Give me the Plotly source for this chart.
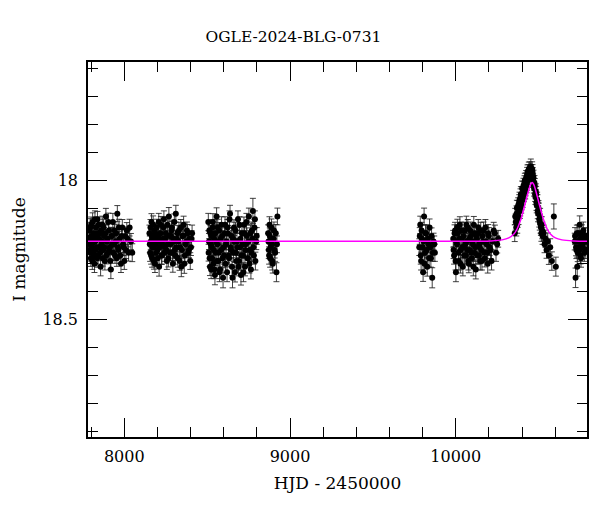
import plotly.graph_objects as go

# ---- data (HJD-2450000, I mag, error) ----
S1_t = [7787, 7791, 7794, 7798, 7801, 7805, 7809, 7812, 7816, 7820,
        7825, 7829, 7833, 7838, 7842, 7847, 7852, 7857, 7862, 7867,
        7872, 7878, 7883, 7889, 7895, 7901, 7907, 7913, 7919, 7925,
        7931, 7938, 7944, 7951, 7958, 7965, 7972, 7980, 7988, 7996,
        8005, 8015, 8026, 8040]
S1_m = [18.21, 18.25, 18.17, 18.28, 18.20, 18.23, 18.15, 18.26, 18.19, 18.30,
        18.22, 18.17, 18.24, 18.14, 18.27, 18.21, 18.19, 18.31, 18.23, 18.16,
        18.25, 18.20, 18.29, 18.13, 18.22, 18.26, 18.18, 18.24, 18.32, 18.20,
        18.15, 18.23, 18.27, 18.19, 18.12, 18.25, 18.21, 18.30, 18.17, 18.24,
        18.20, 18.18, 18.26, 18.22]
S1_e = [0.030, 0.028, 0.032, 0.029, 0.031, 0.027, 0.033, 0.030, 0.028, 0.031,
        0.029, 0.032, 0.030, 0.028, 0.031, 0.027, 0.030, 0.033, 0.029, 0.031,
        0.028, 0.030, 0.032, 0.029, 0.027, 0.031, 0.030, 0.028, 0.033, 0.029,
        0.031, 0.030, 0.028, 0.032, 0.029, 0.030, 0.027, 0.031, 0.029, 0.030,
        0.032, 0.028, 0.030, 0.029]
S1b_t = [7789, 7793, 7796, 7800, 7803, 7807, 7810, 7814, 7818, 7823,
         7827, 7831, 7836, 7840, 7845, 7849, 7854, 7860, 7865, 7870,
         7875, 7880, 7886, 7892, 7898, 7904, 7910, 7916, 7922, 7928,
         7934, 7941, 7948, 7955, 7962, 7968, 7976, 7984, 7992, 8000,
         8010, 8020, 8032, 8048]
S1b_m = [18.18, 18.23, 18.26, 18.16, 18.24, 18.29, 18.20, 18.22, 18.27, 18.14,
         18.25, 18.21, 18.28, 18.19, 18.16, 18.24, 18.26, 18.18, 18.22, 18.28,
         18.17, 18.24, 18.19, 18.27, 18.21, 18.15, 18.25, 18.29, 18.20, 18.23,
         18.26, 18.18, 18.22, 18.28, 18.24, 18.17, 18.27, 18.20, 18.23, 18.29,
         18.25, 18.21, 18.17, 18.26]
S1b_e = [0.029, 0.031, 0.030, 0.028, 0.032, 0.030, 0.029, 0.031, 0.028, 0.030,
         0.031, 0.029, 0.032, 0.030, 0.028, 0.031, 0.029, 0.030, 0.032, 0.028,
         0.030, 0.031, 0.029, 0.030, 0.028, 0.032, 0.030, 0.029, 0.031, 0.030,
         0.028, 0.031, 0.030, 0.029, 0.032, 0.030, 0.028, 0.031, 0.029, 0.030,
         0.031, 0.029, 0.030, 0.032]

S2_t = [8152, 8156, 8160, 8164, 8168, 8172, 8176, 8181, 8185, 8190,
        8195, 8200, 8205, 8210, 8215, 8221, 8227, 8233, 8239, 8245,
        8251, 8257, 8263, 8269, 8275, 8281, 8287, 8293, 8299, 8305,
        8311, 8317, 8323, 8330, 8337, 8344, 8351, 8358, 8366, 8374,
        8382, 8390, 8398, 8406]
S2_m = [18.19, 18.26, 18.22, 18.15, 18.28, 18.21, 18.24, 18.18, 18.30, 18.23,
        18.17, 18.25, 18.20, 18.31, 18.22, 18.16, 18.27, 18.21, 18.14, 18.24,
        18.19, 18.29, 18.23, 18.13, 18.26, 18.20, 18.17, 18.30, 18.22, 18.25,
        18.12, 18.21, 18.28, 18.18, 18.24, 18.31, 18.20, 18.16, 18.27, 18.22,
        18.19, 18.25, 18.29, 18.21]
S2_e = [0.029, 0.031, 0.028, 0.030, 0.032, 0.029, 0.030, 0.027, 0.031, 0.029,
        0.030, 0.028, 0.032, 0.034, 0.029, 0.030, 0.031, 0.028, 0.030, 0.029,
        0.031, 0.030, 0.028, 0.032, 0.029, 0.031, 0.027, 0.030, 0.029, 0.031,
        0.030, 0.028, 0.032, 0.029, 0.030, 0.036, 0.028, 0.031, 0.030, 0.029,
        0.031, 0.028, 0.030, 0.029]
S2b_t = [8154, 8158, 8162, 8166, 8170, 8174, 8179, 8183, 8188, 8192,
         8197, 8202, 8208, 8213, 8218, 8224, 8230, 8236, 8242, 8248,
         8254, 8260, 8266, 8272, 8278, 8284, 8290, 8296, 8302, 8308,
         8314, 8320, 8327, 8334, 8341, 8348, 8355, 8362, 8370, 8378,
         8386, 8394, 8402, 8409]
S2b_m = [18.23, 18.17, 18.27, 18.20, 18.24, 18.16, 18.29, 18.22, 18.19, 18.26,
         18.21, 18.28, 18.15, 18.24, 18.19, 18.27, 18.23, 18.17, 18.26, 18.21,
         18.25, 18.16, 18.28, 18.20, 18.23, 18.18, 18.26, 18.21, 18.15, 18.27,
         18.24, 18.19, 18.22, 18.29, 18.17, 18.25, 18.20, 18.30, 18.23, 18.18,
         18.26, 18.21, 18.24, 18.19]
S2b_e = [0.030, 0.029, 0.031, 0.028, 0.030, 0.032, 0.029, 0.030, 0.031, 0.028,
         0.030, 0.029, 0.031, 0.030, 0.028, 0.032, 0.030, 0.029, 0.031, 0.030,
         0.028, 0.030, 0.031, 0.029, 0.030, 0.032, 0.028, 0.030, 0.029, 0.031,
         0.030, 0.028, 0.030, 0.033, 0.029, 0.030, 0.031, 0.034, 0.029, 0.030,
         0.031, 0.028, 0.030, 0.029]

S3_t = [8507, 8511, 8515, 8520, 8524, 8528, 8533, 8537, 8542, 8547,
        8552, 8557, 8562, 8567, 8572, 8578, 8584, 8590, 8596, 8602,
        8608, 8614, 8620, 8626, 8632, 8638, 8644, 8650, 8656, 8662,
        8668, 8674, 8680, 8686, 8692, 8698, 8704, 8710, 8716, 8722,
        8728, 8734, 8740, 8746, 8752, 8758, 8764, 8770, 8776, 8782,
        8788, 8796]
S3_m = [18.15, 18.22, 18.28, 18.19, 18.32, 18.24, 18.17, 18.30, 18.21, 18.34,
        18.26, 18.13, 18.23, 18.29, 18.18, 18.32, 18.25, 18.20, 18.35, 18.27,
        18.16, 18.23, 18.33, 18.19, 18.28, 18.12, 18.25, 18.31, 18.21, 18.17,
        18.33, 18.26, 18.22, 18.14, 18.29, 18.24, 18.34, 18.19, 18.27, 18.16,
        18.31, 18.23, 18.20, 18.28, 18.13, 18.25, 18.32, 18.18, 18.11, 18.27,
        18.14, 18.22]
S3_e = [0.031, 0.029, 0.030, 0.028, 0.033, 0.030, 0.029, 0.032, 0.028, 0.035,
        0.030, 0.031, 0.029, 0.030, 0.028, 0.033, 0.030, 0.029, 0.036, 0.031,
        0.029, 0.030, 0.034, 0.028, 0.031, 0.030, 0.029, 0.032, 0.030, 0.028,
        0.035, 0.031, 0.029, 0.030, 0.032, 0.029, 0.036, 0.030, 0.031, 0.028,
        0.033, 0.030, 0.029, 0.031, 0.030, 0.029, 0.034, 0.030, 0.045, 0.031,
        0.030, 0.029]
S3b_t = [8509, 8513, 8517, 8522, 8526, 8530, 8535, 8540, 8544, 8549,
         8554, 8559, 8564, 8570, 8575, 8581, 8587, 8593, 8599, 8605,
         8611, 8617, 8623, 8629, 8635, 8641, 8647, 8653, 8659, 8665,
         8671, 8677, 8683, 8689, 8695, 8701, 8707, 8713, 8719, 8725,
         8731, 8737, 8743, 8749, 8755, 8761, 8767, 8773, 8779, 8785,
         8791, 8799]
S3b_m = [18.26, 18.18, 18.31, 18.23, 18.20, 18.28, 18.15, 18.25, 18.32, 18.19,
         18.22, 18.29, 18.17, 18.26, 18.33, 18.21, 18.16, 18.28, 18.24, 18.19,
         18.30, 18.22, 18.17, 18.27, 18.14, 18.24, 18.20, 18.35, 18.26, 18.22,
         18.18, 18.29, 18.24, 18.31, 18.16, 18.21, 18.27, 18.23, 18.33, 18.19,
         18.25, 18.15, 18.28, 18.22, 18.30, 18.19, 18.26, 18.21, 18.24, 18.17,
         18.29, 18.20]
S3b_e = [0.030, 0.029, 0.032, 0.030, 0.028, 0.031, 0.030, 0.029, 0.033, 0.030,
         0.028, 0.031, 0.030, 0.029, 0.034, 0.030, 0.029, 0.031, 0.030, 0.028,
         0.032, 0.030, 0.029, 0.031, 0.030, 0.029, 0.028, 0.036, 0.031, 0.030,
         0.029, 0.032, 0.030, 0.033, 0.029, 0.030, 0.031, 0.030, 0.034, 0.029,
         0.030, 0.031, 0.032, 0.030, 0.033, 0.029, 0.031, 0.030, 0.029, 0.030,
         0.032, 0.030]

S4_t = [8868, 8872, 8876, 8880, 8885, 8890, 8896, 8903, 8910, 8918, 8924]
S4_m = [18.19, 18.25, 18.16, 18.28, 18.21, 18.23, 18.30, 18.18, 18.26, 18.33, 18.13]
S4_e = [0.030, 0.031, 0.029, 0.032, 0.030, 0.029, 0.033, 0.030, 0.031, 0.034, 0.030]
S4b_t = [8870, 8874, 8878, 8883, 8888, 8893, 8900, 8907, 8914, 8921]
S4b_m = [18.22, 18.27, 18.20, 18.24, 18.17, 18.29, 18.21, 18.25, 18.19, 18.23]
S4b_e = [0.030, 0.031, 0.029, 0.030, 0.031, 0.032, 0.030, 0.029, 0.031, 0.030]

S5_t = [9780, 9786, 9791, 9797, 9803, 9809, 9815, 9821, 9828, 9835,
        9842, 9850, 9858, 9866, 9874]
S5_m = [18.24, 18.16, 18.29, 18.21, 18.33, 18.13, 18.26, 18.19, 18.31, 18.23,
        18.17, 18.28, 18.35, 18.22, 18.26]
S5_e = [0.030, 0.031, 0.032, 0.029, 0.033, 0.030, 0.031, 0.029, 0.034, 0.030,
        0.031, 0.032, 0.036, 0.030, 0.031]
S5b_t = [9783, 9789, 9794, 9800, 9806, 9812, 9818, 9825, 9832, 9839,
         9846, 9854, 9862, 9870]
S5b_m = [18.20, 18.27, 18.18, 18.24, 18.22, 18.30, 18.19, 18.25, 18.21, 18.28,
         18.24, 18.20, 18.26, 18.23]
S5b_e = [0.030, 0.031, 0.029, 0.030, 0.031, 0.032, 0.030, 0.029, 0.031, 0.032,
         0.030, 0.029, 0.031, 0.030]

S6_t = [9985, 9990, 9996, 10001, 10007, 10013, 10019, 10025, 10031, 10037,
        10043, 10049, 10055, 10061, 10067, 10073, 10079, 10085, 10091, 10097,
        10103, 10109, 10115, 10121, 10127, 10133, 10139, 10145, 10151, 10158,
        10165, 10172, 10179, 10186, 10193, 10200, 10210, 10222, 10236, 10250]
S6_m = [18.21, 18.27, 18.18, 18.33, 18.23, 18.19, 18.29, 18.16, 18.25, 18.21,
        18.31, 18.24, 18.18, 18.27, 18.22, 18.17, 18.30, 18.25, 18.20, 18.28,
        18.23, 18.16, 18.26, 18.32, 18.21, 18.19, 18.27, 18.24, 18.18, 18.29,
        18.22, 18.26, 18.17, 18.23, 18.30, 18.20, 18.25, 18.22, 18.19, 18.23]
S6_e = [0.030, 0.031, 0.029, 0.034, 0.030, 0.031, 0.032, 0.029, 0.030, 0.031,
        0.033, 0.030, 0.029, 0.031, 0.030, 0.029, 0.032, 0.030, 0.031, 0.030,
        0.029, 0.030, 0.031, 0.034, 0.030, 0.029, 0.031, 0.030, 0.029, 0.032,
        0.030, 0.031, 0.029, 0.030, 0.033, 0.030, 0.031, 0.030, 0.029, 0.031]
S6b_t = [9987, 9993, 9999, 10004, 10010, 10016, 10022, 10028, 10034, 10040,
         10046, 10052, 10058, 10064, 10070, 10076, 10082, 10088, 10094, 10100,
         10106, 10112, 10118, 10124, 10130, 10136, 10142, 10148, 10154, 10161,
         10168, 10175, 10182, 10189, 10196, 10204, 10216, 10229, 10243, 10256]
S6b_m = [18.25, 18.19, 18.29, 18.22, 18.17, 18.26, 18.21, 18.30, 18.18, 18.24,
         18.20, 18.27, 18.23, 18.16, 18.25, 18.29, 18.21, 18.18, 18.26, 18.22,
         18.31, 18.19, 18.24, 18.20, 18.27, 18.17, 18.23, 18.29, 18.25, 18.20,
         18.18, 18.28, 18.22, 18.26, 18.19, 18.24, 18.29, 18.18, 18.26, 18.21]
S6b_e = [0.031, 0.030, 0.032, 0.029, 0.030, 0.031, 0.029, 0.033, 0.030, 0.029,
         0.031, 0.030, 0.029, 0.031, 0.030, 0.032, 0.029, 0.030, 0.031, 0.030,
         0.033, 0.029, 0.030, 0.031, 0.030, 0.029, 0.031, 0.032, 0.030, 0.029,
         0.030, 0.031, 0.030, 0.029, 0.031, 0.030, 0.032, 0.029, 0.031, 0.030]

S7_t = [10356, 10362, 10367, 10371, 10375, 10379, 10383, 10387, 10391, 10395,
        10399, 10403, 10407, 10411, 10415, 10419, 10423, 10427, 10431, 10435,
        10439, 10443, 10447, 10451, 10455, 10459, 10463, 10467, 10471, 10475,
        10479, 10483, 10487, 10491, 10495, 10499, 10504, 10509, 10514, 10519,
        10524, 10530, 10536, 10542, 10548, 10555, 10562, 10570, 10580, 10592,
        10604]
S7_m = [18.19, 18.15, 18.12, 18.16, 18.10, 18.13, 18.08, 18.11, 18.06, 18.09,
        18.05, 18.07, 18.03, 18.05, 18.01, 18.04, 18.00, 18.02, 17.98, 18.00,
        17.97, 17.99, 17.96, 17.98, 17.97, 17.99, 17.97, 18.00, 18.02, 18.01,
        18.05, 18.04, 18.08, 18.07, 18.11, 18.10, 18.14, 18.13, 18.17, 18.16,
        18.20, 18.19, 18.23, 18.21, 18.25, 18.22, 18.27, 18.24, 18.29, 18.13,
        18.31]
S7_e = [0.030, 0.029, 0.028, 0.030, 0.027, 0.029, 0.028, 0.027, 0.029, 0.028,
        0.027, 0.028, 0.026, 0.027, 0.026, 0.027, 0.026, 0.025, 0.026, 0.025,
        0.026, 0.025, 0.026, 0.025, 0.026, 0.025, 0.026, 0.025, 0.026, 0.027,
        0.026, 0.027, 0.028, 0.027, 0.028, 0.027, 0.028, 0.029, 0.028, 0.029,
        0.030, 0.029, 0.030, 0.031, 0.030, 0.031, 0.032, 0.030, 0.033, 0.045,
        0.034]
S7b_t = [10359, 10365, 10369, 10373, 10377, 10381, 10385, 10389, 10393, 10397,
         10401, 10405, 10409, 10413, 10417, 10421, 10425, 10429, 10433, 10437,
         10441, 10445, 10449, 10453, 10457, 10461, 10465, 10469, 10473, 10477,
         10481, 10485, 10489, 10493, 10497, 10502, 10507, 10512, 10517, 10522]
S7b_m = [18.13, 18.17, 18.10, 18.14, 18.09, 18.11, 18.07, 18.10, 18.05, 18.08,
         18.03, 18.06, 18.02, 18.04, 18.00, 18.03, 17.99, 18.01, 17.97, 17.99,
         17.96, 17.98, 17.97, 17.95, 17.98, 17.96, 17.98, 17.99, 18.03, 18.02,
         18.06, 18.05, 18.09, 18.08, 18.12, 18.11, 18.15, 18.16, 18.19, 18.18]
S7b_e = [0.029, 0.030, 0.028, 0.029, 0.027, 0.028, 0.027, 0.028, 0.027, 0.026,
         0.027, 0.026, 0.027, 0.026, 0.025, 0.026, 0.025, 0.026, 0.025, 0.026,
         0.025, 0.026, 0.025, 0.026, 0.025, 0.026, 0.025, 0.026, 0.027, 0.026,
         0.027, 0.028, 0.027, 0.028, 0.029, 0.028, 0.029, 0.030, 0.029, 0.030]

S8_t = [10718, 10723, 10728, 10733, 10738, 10743, 10748, 10753, 10758, 10764,
        10770, 10776, 10782, 10788]
S8_m = [18.22, 18.35, 18.25, 18.31, 18.19, 18.24, 18.16, 18.27, 18.21, 18.23,
        18.18, 18.26, 18.20, 18.22]
S8_e = [0.030, 0.035, 0.031, 0.034, 0.030, 0.031, 0.032, 0.030, 0.029, 0.031,
        0.030, 0.031, 0.029, 0.030]
S8b_t = [10720, 10726, 10731, 10736, 10741, 10746, 10751, 10756, 10761, 10767,
         10773, 10779, 10785]
S8b_m = [18.20, 18.24, 18.19, 18.26, 18.22, 18.25, 18.21, 18.28, 18.19, 18.24,
         18.22, 18.20, 18.25]
S8b_e = [0.030, 0.031, 0.029, 0.032, 0.030, 0.031, 0.029, 0.032, 0.030, 0.031,
         0.030, 0.029, 0.031]

# model curve
MODEL_t = [7781, 10150, 10210, 10280, 10320, 10351, 10371, 10391, 10406, 10421,
           10431, 10441, 10451, 10461, 10471, 10481, 10491, 10501, 10516, 10531,
           10551, 10571, 10601, 10641, 10711, 10792]
MODEL_m = [18.219, 18.219, 18.218, 18.214, 18.207, 18.193, 18.174, 18.144, 18.113, 18.079,
           18.056, 18.034, 18.016, 18.008, 18.016, 18.034, 18.056, 18.079, 18.113, 18.144,
           18.174, 18.193, 18.207, 18.214, 18.218, 18.219]

TITLE = "OGLE-2024-BLG-0731"
X_TITLE = "HJD - 2450000"
Y_TITLE = "I magnitude"

seasons = [(S1_t, S1_m, S1_e), (S1b_t, S1b_m, S1b_e),
           (S2_t, S2_m, S2_e), (S2b_t, S2b_m, S2b_e),
           (S3_t, S3_m, S3_e), (S3b_t, S3b_m, S3b_e),
           (S4_t, S4_m, S4_e), (S4b_t, S4b_m, S4b_e),
           (S5_t, S5_m, S5_e), (S5b_t, S5b_m, S5b_e),
           (S6_t, S6_m, S6_e), (S6b_t, S6b_m, S6b_e),
           (S7_t, S7_m, S7_e), (S7b_t, S7b_m, S7b_e),
           (S8_t, S8_m, S8_e), (S8b_t, S8b_m, S8b_e)]
for s in seasons:
    assert len(s[0]) == len(s[1]) == len(s[2]), [len(a) for a in s]
assert len(MODEL_t) == len(MODEL_m)

t_all, m_all, e_all = [], [], []
for t, m, e in seasons:
    t_all += t
    m_all += m
    e_all += e

FONT = "DejaVu Serif"
# the page body adds an 8px margin, so the figure is 592x504 and offsets are compensated
W, H = 592, 504

fig = go.Figure()
fig.add_trace(go.Scatter(
    x=t_all, y=m_all, mode="markers",
    marker=dict(color="black", size=6),
    error_y=dict(type="data", array=e_all, visible=True, color="rgba(30,30,30,0.85)",
                 thickness=1, width=3),
    showlegend=False))
fig.add_trace(go.Scatter(
    x=MODEL_t, y=MODEL_m, mode="lines", line=dict(color="#ff00ff", width=1.5, shape="spline"),
    showlegend=False))

axis_common = dict(
    showline=True, linecolor="black", linewidth=1.5, mirror="ticks",
    ticks="inside", tickcolor="black", tickwidth=1.2, ticklen=19,
    showgrid=False, zeroline=False, automargin=False,
    tickfont=dict(family=FONT, size=16, color="black"),
)

fig.update_xaxes(
    range=[7781, 10792], tick0=0, dtick=1000, tickformat="d", ticklabelstandoff=4,
    minor=dict(ticks="inside", dtick=200, tick0=0, ticklen=10, tickcolor="black",
               tickwidth=1.2, showgrid=False),
    title=dict(text=X_TITLE, font=dict(family=FONT, size=17, color="black"), standoff=12),
    **axis_common)
fig.update_yaxes(
    range=[18.921, 17.576], tick0=0, dtick=0.5, ticklabelstandoff=5,
    minor=dict(ticks="inside", dtick=0.1, tick0=0, ticklen=10, tickcolor="black",
               tickwidth=1.2, showgrid=False),
    title=dict(text=Y_TITLE, font=dict(family=FONT, size=17, color="black"), standoff=12),
    **axis_common)

fig.update_layout(
    width=W, height=H,
    margin=dict(l=80, r=13, t=54, b=75, autoexpand=False),
    paper_bgcolor="white", plot_bgcolor="white",
    title=dict(text=TITLE, font=dict(family=FONT, size=15.5, color="black"),
               x=(293.5 - 8) / W, xanchor="center", xref="container",
               y=1 - 29 / H, yanchor="middle", yref="container"),
)

fig.write_html("out.html")
